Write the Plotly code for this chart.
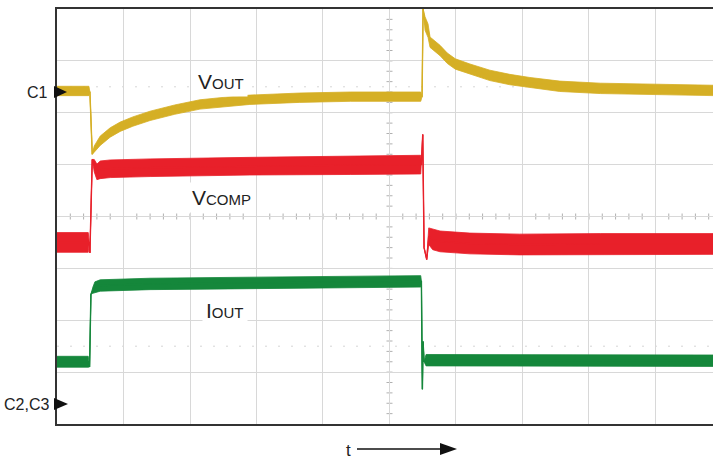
import plotly.graph_objects as go

# ---------------- data (screen divisions: x = time div, y = vertical div) -------------
# VOUT (yellow)
vout_t  = [0.00, 0.48, 0.495, 0.53, 0.56, 0.65, 0.80, 0.95, 1.14, 1.40, 1.77, 2.15, 2.53, 2.90,
           3.65, 4.41, 5.47, 5.49, 5.505, 5.535, 5.58, 5.61, 5.76, 5.87, 5.99, 6.21, 6.51, 6.81,
           7.11, 7.56, 8.17, 8.92, 9.87]
vout_v  = [6.42, 6.42, 6.40, 5.20, 5.30, 5.46, 5.62, 5.73, 5.83, 5.94, 6.06, 6.16, 6.21, 6.25,
           6.29, 6.31, 6.31, 6.31, 8.00, 7.72, 7.58, 7.36, 7.20, 7.05, 6.94, 6.84, 6.72, 6.64,
           6.58, 6.51, 6.47, 6.45, 6.43]
vout_hw = [0.09, 0.09, 0.00, 0.00, 0.06, 0.09, 0.09, 0.09, 0.09, 0.09, 0.09, 0.09, 0.09, 0.09,
           0.09, 0.09, 0.09, 0.00, 0.00, 0.13, 0.13, 0.10, 0.10, 0.10, 0.10, 0.10, 0.10, 0.10,
           0.10, 0.10, 0.10, 0.10, 0.10]

# VCOMP (red)
vcomp_t  = [0.00, 0.47, 0.485, 0.495, 0.53, 0.56, 0.60, 0.65, 0.80, 1.40, 2.90, 4.41, 5.47,
            5.48, 5.50, 5.52, 5.56, 5.59, 5.65, 5.76, 6.21, 6.96, 8.17, 9.87]
vcomp_v  = [3.50, 3.50, 3.50, 3.30, 5.10, 4.98, 4.86, 4.90, 4.92, 4.94, 4.97, 4.99, 5.00,
            5.00, 5.58, 3.40, 3.17, 3.62, 3.56, 3.52, 3.48, 3.46, 3.47, 3.47]
vcomp_hw = [0.19, 0.19, 0.00, 0.00, 0.00, 0.12, 0.15, 0.17, 0.17, 0.17, 0.17, 0.18, 0.18,
            0.00, 0.00, 0.00, 0.00, 0.16, 0.20, 0.20, 0.20, 0.20, 0.20, 0.20]

# IOUT (green)
iout_t  = [0.00, 0.47, 0.49, 0.51, 0.54, 0.57, 0.65, 1.40, 2.90, 4.41, 5.47, 5.48, 5.49,
           5.495, 5.505, 5.52, 5.55, 6.21, 8.17, 9.87]
iout_v  = [1.20, 1.20, 1.10, 2.50, 2.58, 2.64, 2.67, 2.70, 2.72, 2.74, 2.75, 2.75, 1.10,
           0.67, 1.59, 1.20, 1.23, 1.23, 1.22, 1.22]
iout_hw = [0.105, 0.105, 0.0, 0.0, 0.06, 0.10, 0.11, 0.11, 0.11, 0.11, 0.11, 0.0, 0.0,
           0.0, 0.0, 0.0, 0.11, 0.11, 0.11, 0.11]

channel_names  = ["VOUT", "VCOMP", "IOUT"]
channel_colors = ["#D5AF25", "#E8202A", "#15873B"]
label_main = ["V", "V", "I"]
label_sub  = ["OUT", "COMP", "OUT"]
marker_labels = ["C1", "C2,C3"]
time_label = "t"

X_MAX = 9.865   # visible divisions (screen is cut on the right)
Y_MAX = 8

# ---------------- layout geometry helpers -------------
W, H = 713, 460
ML, MT, MB = 57, 9, 36
PW, PH = W - ML, H - MT - MB


def px(x):
    return (x - ML) / PW


def py(y):
    return (H - MB - y) / PH


fig = go.Figure()

series = [(vout_t, vout_v, vout_hw), (vcomp_t, vcomp_v, vcomp_hw), (iout_t, iout_v, iout_hw)]
for (t, v, hw), name, col in zip(series, channel_names, channel_colors):
    up = [a + b for a, b in zip(v, hw)]
    lo = [a - b for a, b in zip(v, hw)]
    fig.add_trace(go.Scatter(x=t + t[::-1], y=up + lo[::-1], mode="lines", fill="toself",
                             fillcolor=col, line=dict(color=col, width=0.8),
                             hoverinfo="skip", showlegend=False, name=name))
    fig.add_trace(go.Scatter(x=t, y=v, mode="lines", line=dict(color=col, width=1.4),
                             showlegend=False, name=name))

shapes = []
grid = "#d8d8d8"
# centre lines with minor ticks
shapes.append(dict(type="line", xref="x", yref="y", x0=5, x1=5, y0=0, y1=Y_MAX,
                   line=dict(color="#c8c8c8", width=1), layer="below"))
shapes.append(dict(type="line", xref="x", yref="y", x0=0, x1=X_MAX, y0=4, y1=4,
                   line=dict(color="#c8c8c8", width=1), layer="below"))
dx = 3 / (PW / X_MAX)
dy = 3 / (PH / Y_MAX)
k = 1
while k * 0.2 < X_MAX:
    xv = k * 0.2
    shapes.append(dict(type="line", xref="x", yref="y", x0=xv, x1=xv, y0=4 - dy, y1=4 + dy,
                       line=dict(color="#b0b0b0", width=1), layer="below"))
    k += 1
k = 1
while k * 0.2 < Y_MAX:
    yv = k * 0.2
    shapes.append(dict(type="line", xref="x", yref="y", x0=5 - dx, x1=5 + dx, y0=yv, y1=yv,
                       line=dict(color="#b0b0b0", width=1), layer="below"))
    k += 1
# faint dotted reference lines
for yv in (1.5, 6.5):
    shapes.append(dict(type="line", xref="x", yref="y", x0=0, x1=X_MAX, y0=yv, y1=yv,
                       line=dict(color="#d6d6d6", width=1, dash="2px,11px"), layer="below"))

# channel marker triangles
for (yc, tip) in ((92, 67), (404, 68)):
    shapes.append(dict(type="path", xref="paper", yref="paper",
                       path=f"M {px(54)},{py(yc - 6)} L {px(tip)},{py(yc)} L {px(54)},{py(yc + 6)} Z",
                       fillcolor="#111111", line=dict(color="#111111", width=0)))
# time arrow
shapes.append(dict(type="line", xref="paper", yref="paper", x0=px(357), x1=px(443),
                   y0=py(449), y1=py(449), line=dict(color="#111111", width=1.5)))
shapes.append(dict(type="path", xref="paper", yref="paper",
                   path=f"M {px(440)},{py(443)} L {px(457)},{py(449)} L {px(440)},{py(455)} Z",
                   fillcolor="#111111", line=dict(color="#111111", width=0)))

FONT = "Liberation Sans, Arial, sans-serif"
annotations = []
label_pos = [(221, 81), (221, 198), (225, 310)]
for (m, s), (xc, yc) in zip(zip(label_main, label_sub), label_pos):
    annotations.append(dict(xref="paper", yref="paper", x=px(xc), y=py(yc),
                            xanchor="center", yanchor="middle", showarrow=False,
                            text=f"{m}<span style='font-size:15px'>{s}</span>",
                            font=dict(family=FONT, size=21, color="#222222"),
                            bgcolor="white", borderpad=3))
for lab, (xr, yc) in zip(marker_labels, ((50, 92.5), (51, 404))):
    annotations.append(dict(xref="paper", yref="paper", x=px(xr), y=py(yc),
                            xanchor="right", yanchor="middle", showarrow=False, text=lab,
                            font=dict(family=FONT, size=16, color="#222222")))
annotations.append(dict(xref="paper", yref="paper", x=px(348), y=py(450),
                        xanchor="center", yanchor="middle", showarrow=False, text=time_label,
                        font=dict(family=FONT, size=17, color="#222222")))

fig.update_layout(
    width=W, height=H,
    margin=dict(l=ML, r=0, t=MT, b=MB, pad=0),
    paper_bgcolor="white", plot_bgcolor="white",
    shapes=shapes, annotations=annotations, showlegend=False,
    xaxis=dict(range=[0, X_MAX], tick0=0, dtick=1, showgrid=True, gridcolor=grid, gridwidth=1,
               zeroline=False, showticklabels=False, ticks="", showline=True, mirror=True,
               linecolor="#333333", linewidth=1.5, fixedrange=True),
    yaxis=dict(range=[0, Y_MAX], tick0=0, dtick=1, showgrid=True, gridcolor=grid, gridwidth=1,
               zeroline=False, showticklabels=False, ticks="", showline=True, mirror=False,
               linecolor="#333333", linewidth=1.5, fixedrange=True),
)

fig.write_html("out.html", config={"displayModeBar": False},
               post_script="document.body.style.margin='0';document.body.style.padding='0';")
